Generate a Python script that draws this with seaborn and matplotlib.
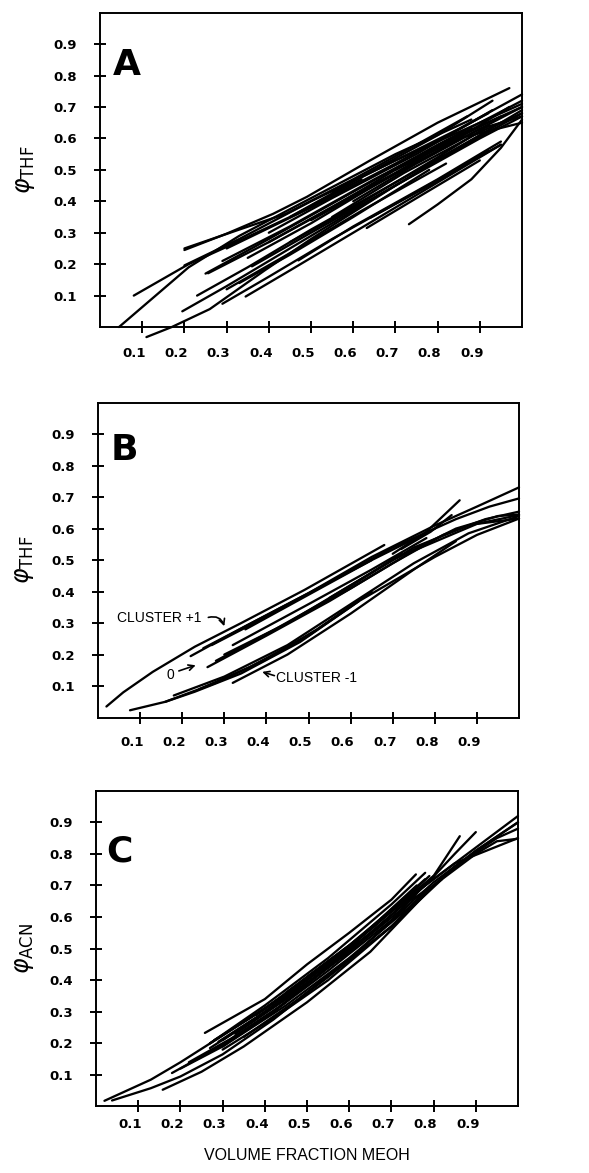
import numpy as np
import pandas as pd
import matplotlib
matplotlib.use('Agg')
import matplotlib.pyplot as plt
import matplotlib.transforms as mtransforms
import seaborn as sns

# curves, one x list and one y list per curve
# panel A: phi THF vs volume fraction MeOH
a_x = [
    [0.20, 0.30, 0.41, 0.49, 0.64, 0.80, 0.97],
    [0.20, 0.33, 0.44, 0.60, 0.75, 0.87],
    [0.08, 0.21, 0.30, 0.45, 0.62],
    [0.20, 0.33, 0.50, 0.70, 0.85, 1.00],
    [0.045, 0.21, 0.33, 0.50, 0.70, 0.88],
    [0.25, 0.40, 0.60, 0.80, 1.00],
    [0.29, 0.45, 0.65, 0.85, 1.00],
    [0.30, 0.50, 0.70, 0.92],
    [0.11, 0.17, 0.26, 0.39, 0.50, 0.70, 0.90, 1.00],
    [0.195, 0.30, 0.45, 0.60, 0.80, 1.00],
    [0.23, 0.35, 0.50, 0.70, 0.90],
    [0.29, 0.40, 0.55, 0.75, 0.95],
    [0.345, 0.45, 0.60, 0.80, 0.95],
    [0.256, 0.40, 0.60, 0.80, 1.00],
    [0.36, 0.50, 0.70, 0.90, 1.00],
    [0.47, 0.60, 0.80, 0.95],
    [0.632, 0.75, 0.90],
    [0.641, 0.78, 0.92],
    [0.732, 0.80, 0.88, 0.95, 1.00],
    [0.40, 0.55, 0.75, 0.93],
    [0.55, 0.70, 0.85, 1.00],
    [0.60, 0.75, 0.90, 1.00],
    [0.45, 0.60, 0.80, 0.92],
    [0.70, 0.85, 1.00],
    [0.33, 0.45, 0.60, 0.78],
    [0.50, 0.65, 0.80, 0.97],
    [0.45, 0.65, 0.80, 0.93],
    [0.35, 0.50, 0.65, 0.80, 0.95],
    [0.40, 0.55, 0.70, 0.88],
    [0.30, 0.45, 0.62, 0.82],
    [0.55, 0.72, 0.90, 1.00],
]
a_y = [
    [0.245, 0.297, 0.36, 0.414, 0.53, 0.65, 0.76],
    [0.25, 0.31, 0.36, 0.47, 0.58, 0.67],
    [0.10, 0.20, 0.255, 0.35, 0.47],
    [0.196, 0.28, 0.40, 0.53, 0.63, 0.74],
    [0.0, 0.19, 0.29, 0.41, 0.55, 0.66],
    [0.17, 0.28, 0.43, 0.58, 0.72],
    [0.21, 0.32, 0.47, 0.61, 0.70],
    [0.25, 0.38, 0.52, 0.68],
    [-0.032, 0.0, 0.057, 0.18, 0.28, 0.45, 0.61, 0.69],
    [0.05, 0.13, 0.25, 0.37, 0.53, 0.68],
    [0.10, 0.19, 0.31, 0.46, 0.61],
    [0.074, 0.16, 0.28, 0.43, 0.58],
    [0.097, 0.18, 0.30, 0.46, 0.58],
    [0.171, 0.27, 0.42, 0.56, 0.70],
    [0.193, 0.30, 0.45, 0.60, 0.67],
    [0.212, 0.32, 0.47, 0.59],
    [0.315, 0.41, 0.53],
    [0.348, 0.45, 0.56],
    [0.327, 0.39, 0.47, 0.57, 0.66],
    [0.30, 0.41, 0.55, 0.69],
    [0.43, 0.53, 0.62, 0.71],
    [0.40, 0.52, 0.63, 0.67],
    [0.27, 0.38, 0.54, 0.64],
    [0.50, 0.60, 0.65],
    [0.14, 0.23, 0.35, 0.50],
    [0.34, 0.45, 0.56, 0.70],
    [0.35, 0.50, 0.61, 0.72],
    [0.22, 0.33, 0.45, 0.57, 0.67],
    [0.27, 0.38, 0.50, 0.63],
    [0.12, 0.235, 0.37, 0.52],
    [0.35, 0.49, 0.62, 0.68],
]

# panel B: phi THF, three clusters
b_x = [
    [0.02, 0.06, 0.13, 0.23, 0.34, 0.49, 0.68],
    [0.22, 0.35, 0.50, 0.65, 0.80, 0.90, 1.00],
    [0.27, 0.40, 0.55, 0.70, 0.85, 0.93, 1.00],
    [0.25, 0.40, 0.55, 0.65],
    [0.26, 0.40, 0.55, 0.70, 0.82, 0.92, 1.00],
    [0.30, 0.45, 0.60, 0.75, 0.88, 1.00],
    [0.32, 0.50, 0.65, 0.78],
    [0.28, 0.42, 0.58, 0.72],
    [0.076, 0.16, 0.23, 0.34, 0.48, 0.62, 0.80, 0.90, 1.00],
    [0.18, 0.30, 0.45, 0.60, 0.75, 0.88, 1.00],
    [0.16, 0.28, 0.40, 0.52, 0.65],
    [0.32, 0.45, 0.60, 0.75, 0.85],
    [0.70, 0.78, 0.859],
    [0.72, 0.79, 0.84],
    [0.45, 0.60, 0.75, 0.90, 1.00],
    [0.35, 0.50, 0.65, 0.80],
    [0.24, 0.36, 0.50, 0.62],
    [0.55, 0.70, 0.85, 0.95, 1.00],
]
b_y = [
    [0.035, 0.08, 0.145, 0.225, 0.30, 0.405, 0.548],
    [0.195, 0.29, 0.395, 0.51, 0.61, 0.67, 0.731],
    [0.23, 0.32, 0.43, 0.54, 0.63, 0.67, 0.696],
    [0.22, 0.325, 0.43, 0.50],
    [0.16, 0.26, 0.37, 0.49, 0.58, 0.63, 0.654],
    [0.20, 0.30, 0.42, 0.54, 0.61, 0.643],
    [0.23, 0.36, 0.47, 0.57],
    [0.18, 0.28, 0.40, 0.52],
    [0.023, 0.05, 0.082, 0.14, 0.24, 0.37, 0.51, 0.58, 0.632],
    [0.07, 0.13, 0.23, 0.36, 0.49, 0.585, 0.64],
    [0.05, 0.11, 0.185, 0.28, 0.40],
    [0.11, 0.20, 0.33, 0.47, 0.56],
    [0.52, 0.59, 0.69],
    [0.535, 0.59, 0.643],
    [0.30, 0.41, 0.53, 0.615, 0.632],
    [0.28, 0.39, 0.50, 0.60],
    [0.09, 0.16, 0.26, 0.37],
    [0.38, 0.50, 0.60, 0.64, 0.645],
]

# panel C: phi ACN
c_x = [
    [0.02, 0.13, 0.20, 0.30, 0.40, 0.50, 0.60, 0.70, 0.80, 0.90, 1.00],
    [0.038, 0.13, 0.20, 0.30, 0.42, 0.50, 0.60, 0.70, 0.777],
    [0.158, 0.25, 0.35, 0.50, 0.65, 0.80, 0.90, 0.95, 1.00],
    [0.18, 0.28, 0.40, 0.55, 0.70, 0.80, 0.90, 1.00],
    [0.258, 0.40, 0.50, 0.60, 0.70, 0.758],
    [0.27, 0.40, 0.55, 0.70, 0.78],
    [0.30, 0.45, 0.60, 0.72, 0.80, 0.862],
    [0.35, 0.50, 0.65, 0.78, 0.85, 0.90],
    [0.20, 0.30, 0.45, 0.60, 0.75, 0.85, 0.95, 1.00],
    [0.30, 0.42, 0.55, 0.70, 0.80, 0.90, 1.00],
    [0.40, 0.55, 0.70, 0.82],
    [0.45, 0.60, 0.75],
    [0.27, 0.38, 0.50, 0.62],
    [0.33, 0.45, 0.60, 0.73, 0.80],
    [0.50, 0.62, 0.75, 0.85, 1.00],
    [0.28, 0.40, 0.55, 0.70, 0.80],
    [0.35, 0.48, 0.62, 0.75],
    [0.30, 0.42, 0.55, 0.68, 0.78],
    [0.22, 0.32, 0.45],
    [0.27, 0.37, 0.50, 0.63, 0.76],
    [0.38, 0.52, 0.66, 0.79],
    [0.29, 0.40, 0.53, 0.66],
]
c_y = [
    [0.018, 0.085, 0.14, 0.225, 0.31, 0.41, 0.51, 0.62, 0.72, 0.82, 0.92],
    [0.019, 0.058, 0.095, 0.165, 0.275, 0.36, 0.465, 0.57, 0.677],
    [0.053, 0.11, 0.19, 0.33, 0.49, 0.70, 0.80, 0.84, 0.848],
    [0.106, 0.18, 0.28, 0.43, 0.59, 0.71, 0.81, 0.90],
    [0.233, 0.34, 0.45, 0.55, 0.655, 0.735],
    [0.20, 0.32, 0.47, 0.64, 0.74],
    [0.21, 0.34, 0.49, 0.62, 0.73, 0.856],
    [0.25, 0.39, 0.55, 0.70, 0.80, 0.869],
    [0.12, 0.19, 0.32, 0.47, 0.64, 0.76, 0.85, 0.88],
    [0.18, 0.28, 0.41, 0.57, 0.70, 0.81, 0.90],
    [0.26, 0.40, 0.57, 0.72],
    [0.36, 0.51, 0.68],
    [0.185, 0.28, 0.40, 0.52],
    [0.23, 0.34, 0.49, 0.64, 0.70],
    [0.41, 0.53, 0.67, 0.77, 0.85],
    [0.21, 0.31, 0.45, 0.62, 0.73],
    [0.22, 0.34, 0.49, 0.65],
    [0.19, 0.30, 0.44, 0.60, 0.72],
    [0.14, 0.215, 0.33],
    [0.20, 0.285, 0.40, 0.54, 0.70],
    [0.29, 0.42, 0.57, 0.73],
    [0.205, 0.30, 0.42, 0.56],
]

tick_vals = [0.1, 0.2, 0.3, 0.4, 0.5, 0.6, 0.7, 0.8, 0.9]
tick_labels = ['0.1', '0.2', '0.3', '0.4', '0.5', '0.6', '0.7', '0.8', '0.9']
panel_letters = ['A', 'B', 'C']
y_labels = [r'$\varphi_{\mathrm{THF}}$', r'$\varphi_{\mathrm{THF}}$', r'$\varphi_{\mathrm{ACN}}$']

rows = []
for letter, xs, ys in zip(panel_letters, [a_x, b_x, c_x], [a_y, b_y, c_y]):
    for i, (cx, cy) in enumerate(zip(xs, ys)):
        for x, y in zip(cx, cy):
            rows.append((letter, i, x, y))
df = pd.DataFrame(rows, columns=['panel', 'curve', 'x', 'y'])

sns.set_style('ticks')
plt.rcParams['font.family'] = ['DejaVu Sans']
plt.rcParams['mathtext.fontset'] = 'dejavusans'
plt.rcParams['text.color'] = 'black'
plt.rcParams['axes.labelcolor'] = 'black'
narrow = 'Liberation Sans'

fig = plt.figure(figsize=(5.89, 11.73), dpi=100)
# axes boxes in figure fractions (left, bottom, width, height)
boxes = [
    (0.1698, 0.7212, 0.7165, 0.268),
    (0.1664, 0.3883, 0.7148, 0.2684),
    (0.1630, 0.0567, 0.7165, 0.2692),
]
letter_pos = [(0.031, 0.835), (0.029, 0.85), (0.024, 0.807)]
xlabel_pad = [10, 9, 4]
ylabel_x = [-0.150, -0.147, -0.142]
# typewritten x labels sit a little left of their ticks
shift = mtransforms.ScaledTranslation(-8 / 100, 0, fig.dpi_scale_trans)

for k, letter in enumerate(panel_letters):
    ax = fig.add_axes(boxes[k])
    d = df[df['panel'] == letter]
    sns.lineplot(data=d, x='x', y='y', units='curve', estimator=None, sort=False,
                 color='black', linewidth=1.65, legend=False, ax=ax)
    for ln in ax.lines:
        ln.set_clip_on(False)
    ax.set_xlim(0, 1)
    ax.set_ylim(0, 1)
    ax.set_xticks(tick_vals)
    ax.set_xticklabels(tick_labels, fontweight='bold')
    ax.set_yticks(tick_vals)
    ax.set_yticklabels(tick_labels, fontweight='bold')
    ax.tick_params(direction='inout', length=9, width=1.4, labelsize=9.5,
                   colors='black')
    ax.tick_params(axis='y', pad=12)
    ax.tick_params(axis='x', pad=xlabel_pad[k])
    for lab in ax.get_xticklabels():
        lab.set_transform(lab.get_transform() + shift)
    for sp in ax.spines.values():
        sp.set_visible(True)
        sp.set_linewidth(1.4)
        sp.set_color('black')
    ax.set_xlabel('')
    ax.set_ylabel(y_labels[k], fontsize=17, labelpad=0, color='black')
    ax.yaxis.set_label_coords(ylabel_x[k], 0.5)
    ax.text(letter_pos[k][0], letter_pos[k][1], letter, transform=ax.transAxes,
            fontsize=26, fontweight='bold', color='black', va='center', ha='left')
    if letter == 'B':
        ax.text(0.045, 0.315, 'CLUSTER +1', fontsize=10, family=narrow,
                va='center', ha='left')
        ax.annotate('', xy=(0.30, 0.29), xytext=(0.262, 0.318),
                    arrowprops=dict(arrowstyle='->', lw=1.2, color='black',
                                    shrinkA=0, shrinkB=0,
                                    connectionstyle='arc3,rad=-0.45'))
        ax.text(0.163, 0.134, '0', fontsize=10, family=narrow,
                va='center', ha='left')
        ax.annotate('', xy=(0.232, 0.166), xytext=(0.192, 0.148),
                    arrowprops=dict(arrowstyle='->', lw=1.2, color='black',
                                    shrinkA=0, shrinkB=0))
        ax.text(0.422, 0.127, 'CLUSTER -1', fontsize=10, family=narrow,
                va='center', ha='left')
        ax.annotate('', xy=(0.39, 0.145), xytext=(0.419, 0.133),
                    arrowprops=dict(arrowstyle='->', lw=1.2, color='black',
                                    shrinkA=0, shrinkB=0))
    if letter == 'C':
        ax.set_xlabel('VOLUME FRACTION MEOH', fontsize=11.5, family=narrow,
                      labelpad=12)

fig.savefig('out.png', dpi=100, facecolor='white')
